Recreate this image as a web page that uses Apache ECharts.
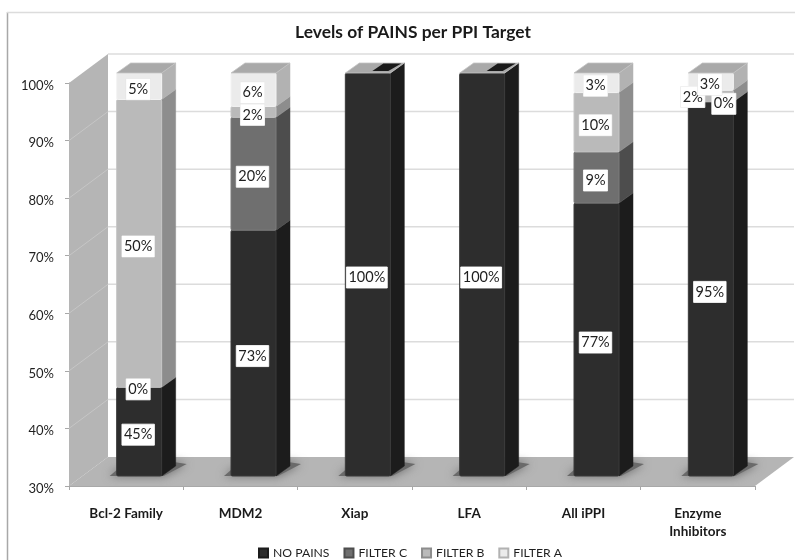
<!DOCTYPE html>
<html><head><meta charset="utf-8">
<style>html,body{margin:0;padding:0;background:#fff}#c{width:795px;height:560px;filter:blur(0.5px)}</style>
<script src="https://cdn.jsdelivr.net/npm/echarts@6/dist/echarts.min.js"></script>
</head><body><div id="c"></div>
<script>
const categories = ['Bcl-2 Family','MDM2','Xiap','LFA','All iPPI','Enzyme Inhibitors'];
const noPains = [45.4,72.7,100,100,77.4,95];
const filterC = [0,19.6,null,null,8.9,0];
const filterB = [50,1.9,null,null,10.3,2];
const filterA = [4.6,5.8,null,null,3.4,3];
const yTicks = [30,40,50,60,70,80,90,100];
const seriesNames = ['NO PAINS','FILTER C','FILTER B','FILTER A'];
const seriesValues = [noPains,filterC,filterB,filterA];
const fronts = ['#2d2d2d','#6f6f6f','#bababa','#ebebeb'];
const sides = ['#1c1c1c','#4d4d4d','#8d8d8d','#b2b2b2'];
const edges = ['#3a3a3a','#7c7c7c','#c6c6c6','#f3f3f3'];
const topFace = '#a9a9a9';
const font = 'Lato, "Open Sans", sans-serif';
// moved data labels: "series:category" -> [dx, dy]
const labelShift = {'1:5':[14,-1],'2:5':[-17,-2],'1:0':[0,-1]};
const labelDrop = 3;
const wall = {dx:39, dy:-29};
const plane = {dx:13, dy:-10};
const depth = {dx:14, dy:-10};
const barW = 45;

function stackData(s){
  return categories.map((c,i)=>{
    let base = 0;
    for(let k=0;k<s;k++) base += seriesValues[k][i]||0;
    return [i, base, base+(seriesValues[s][i]||0)];
  });
}
function renderBar(s){
  return function(params, api){
    const i = api.value(0), b = api.value(1), t = api.value(2);
    const pb = api.coord([i,Math.max(b,30)]), pt = api.coord([i,t]);
    const x0 = pb[0]+plane.dx-barW/2, x1 = x0+barW;
    const yb = pb[1]+plane.dy, yt = pt[1]+plane.dy;
    const children = [];
    if(t>b){
      children.push({type:'polygon',shape:{points:[[x1,yb],[x1+depth.dx,yb+depth.dy],[x1+depth.dx,yt+depth.dy],[x1,yt]]},style:{fill:sides[s],stroke:sides[s],lineWidth:.5}});
      children.push({type:'rect',shape:{x:x0,y:yt,width:barW,height:yb-yt,r:1.5},style:{fill:fronts[s],stroke:edges[s],lineWidth:1}});
    }
    if(s===3){
      children.push({type:'polygon',shape:{points:[[x0,yt],[x1,yt],[x1+depth.dx,yt+depth.dy],[x0+depth.dx,yt+depth.dy]]},style:{fill:topFace,stroke:'#c4c4c4',lineWidth:.8}});
      if(seriesValues[s][i]==null){
        const a=yt+depth.dy, c=yt-1;
        children.push({type:'polygon',shape:{points:[[x0+27,c-1],[x0+38,a+.5],[x1+11,a+.5],[x1-2,c-1]]},style:{fill:'#1a1a1a'}});
      }
    }
    return {type:'group',children};
  };
}
function labelData(){
  const out=[];
  seriesValues.forEach((vals,s)=>{
    const st=stackData(s);
    vals.forEach((v,i)=>{ if(v!=null) out.push([i,Math.max(st[i][1],30),st[i][2],Math.round(v)+'%',s]); });
  });
  return out;
}
function renderLabel(params, api){
  const i=api.value(0), s=api.value(4);
  const pb=api.coord([i,api.value(1)]), pt=api.coord([i,api.value(2)]);
  const sh=labelShift[s+':'+i]||[0,0];
  const x=pb[0]+plane.dx+sh[0]-1, y=(pb[1]+pt[1])/2+plane.dy+labelDrop+sh[1];
  return {type:'text',style:{text:api.value(3),x,y,align:'center',verticalAlign:'middle',
    font:'14.5px '+font,fill:'#1f1f1f',backgroundColor:'#fff',padding:[3,2,3,2],
    borderColor:'#e4e4e4',borderWidth:.5}};
}
function renderWall(params, api){
  const v = api.value(1), cs = params.coordSys, y = api.coord([0,v])[1];
  const L = cs.x, R = cs.x+cs.width, B = cs.y+cs.height, T = cs.y;
  const ch = [];
  if(v===yTicks[0]){
    ch.push({type:'polygon',shape:{points:[[L,T],[L+wall.dx,T+wall.dy],[L+wall.dx,B+wall.dy],[L,B]]},style:{fill:'#b5b5b5'}});
    ch.push({type:'polygon',shape:{points:[[L,B],[L+wall.dx,B+wall.dy],[R+wall.dx,B+wall.dy],[R,B]]},style:{fill:'#b5b5b5'}});
  } else {
    ch.push({type:'line',shape:{x1:L+wall.dx,y1:y+wall.dy,x2:R+wall.dx,y2:y+wall.dy},style:{stroke:'#dcdcdc',lineWidth:1.5}});
    if(v!==100) ch.push({type:'line',shape:{x1:L,y1:y,x2:L+wall.dx,y2:y+wall.dy},style:{stroke:'#c6c6c6',lineWidth:1}});
  }
  return {type:'group',children:ch};
}
function renderShadow(params, api){
  const p = api.coord([api.value(0),30]);
  const x0=p[0]+plane.dx-barW/2, x1=x0+barW, y=p[1]+plane.dy;
  return {type:'polygon',shape:{points:[[x0-7,y],[x1+2,y],[x1+25,y-12],[x1+12,y-14],[x0,y-6]]},
    style:{fill:'#6a6a6a',shadowBlur:10,shadowColor:'#6a6a6a'}};
}
const chart = echarts.init(document.getElementById('c'),null,{renderer:'canvas'});
const series = [
  {type:'custom',name:'wall',z:1,silent:true,renderItem:renderWall,clip:false,data:yTicks.map(v=>[0,v]),encode:{x:0,y:1},animation:false},
  {type:'custom',name:'shadow',z:1.5,silent:true,renderItem:renderShadow,clip:false,data:categories.map((c,i)=>[i,30]),encode:{x:0,y:1},animation:false}
];
seriesNames.forEach((n,s)=>series.push({type:'custom',name:n,z:2+s/10,renderItem:renderBar(s),clip:false,
  itemStyle:{color:fronts[s],borderColor:sides[s],borderWidth:1},data:stackData(s),encode:{x:0,y:[1,2]},animation:false}));
series.push({type:'custom',name:'labels',z:5,silent:true,renderItem:renderLabel,clip:false,data:labelData(),encode:{x:0,y:2},animation:false});
chart.setOption({
  animation:false,
  backgroundColor:'#fff',
  title:{text:'Levels of PAINS per PPI Target',left:408,top:19,textAlign:'center',textStyle:{fontFamily:font,fontWeight:'bold',fontSize:17.4,color:'#1a1a1a'}},
  legend:{data:seriesNames,left:258,top:547,padding:0,itemWidth:9,itemHeight:9,itemGap:14,icon:'rect',textStyle:{fontFamily:font,fontSize:12.2,color:'#1f1f1f'},selectedMode:false},
  grid:{left:69,right:40,top:83,bottom:74},
  xAxis:{type:'category',data:categories,boundaryGap:true,
    axisLine:{lineStyle:{color:'#a8a8a8'}},axisTick:{show:true,length:4,lineStyle:{color:'#a8a8a8'}},
    axisLabel:{interval:0,margin:19,fontFamily:font,fontWeight:'bold',fontSize:13.5,color:'#1a1a1a',lineHeight:18,formatter:v=>v.replace('Enzyme ','Enzyme\n')},splitLine:{show:false}},
  yAxis:{type:'value',min:30,max:100,interval:10,
    axisLine:{show:true,lineStyle:{color:'#a8a8a8'}},axisTick:{show:true,length:4,lineStyle:{color:'#a8a8a8'}},
    axisLabel:{margin:15,verticalAlign:'top',lineHeight:5,fontFamily:font,fontSize:13,color:'#1f1f1f',formatter:'{value}%'},splitLine:{show:false}},
  graphic:[
    {type:'line',z:-1,shape:{x1:7.5,y1:12,x2:7.5,y2:560},style:{stroke:'#a8a8a8',lineWidth:1.5}},
    {type:'line',z:-1,shape:{x1:7,y1:12.5,x2:795,y2:12.5},style:{stroke:'#dcdcdc',lineWidth:1.5}}
  ],
  series
});
</script></body></html>
